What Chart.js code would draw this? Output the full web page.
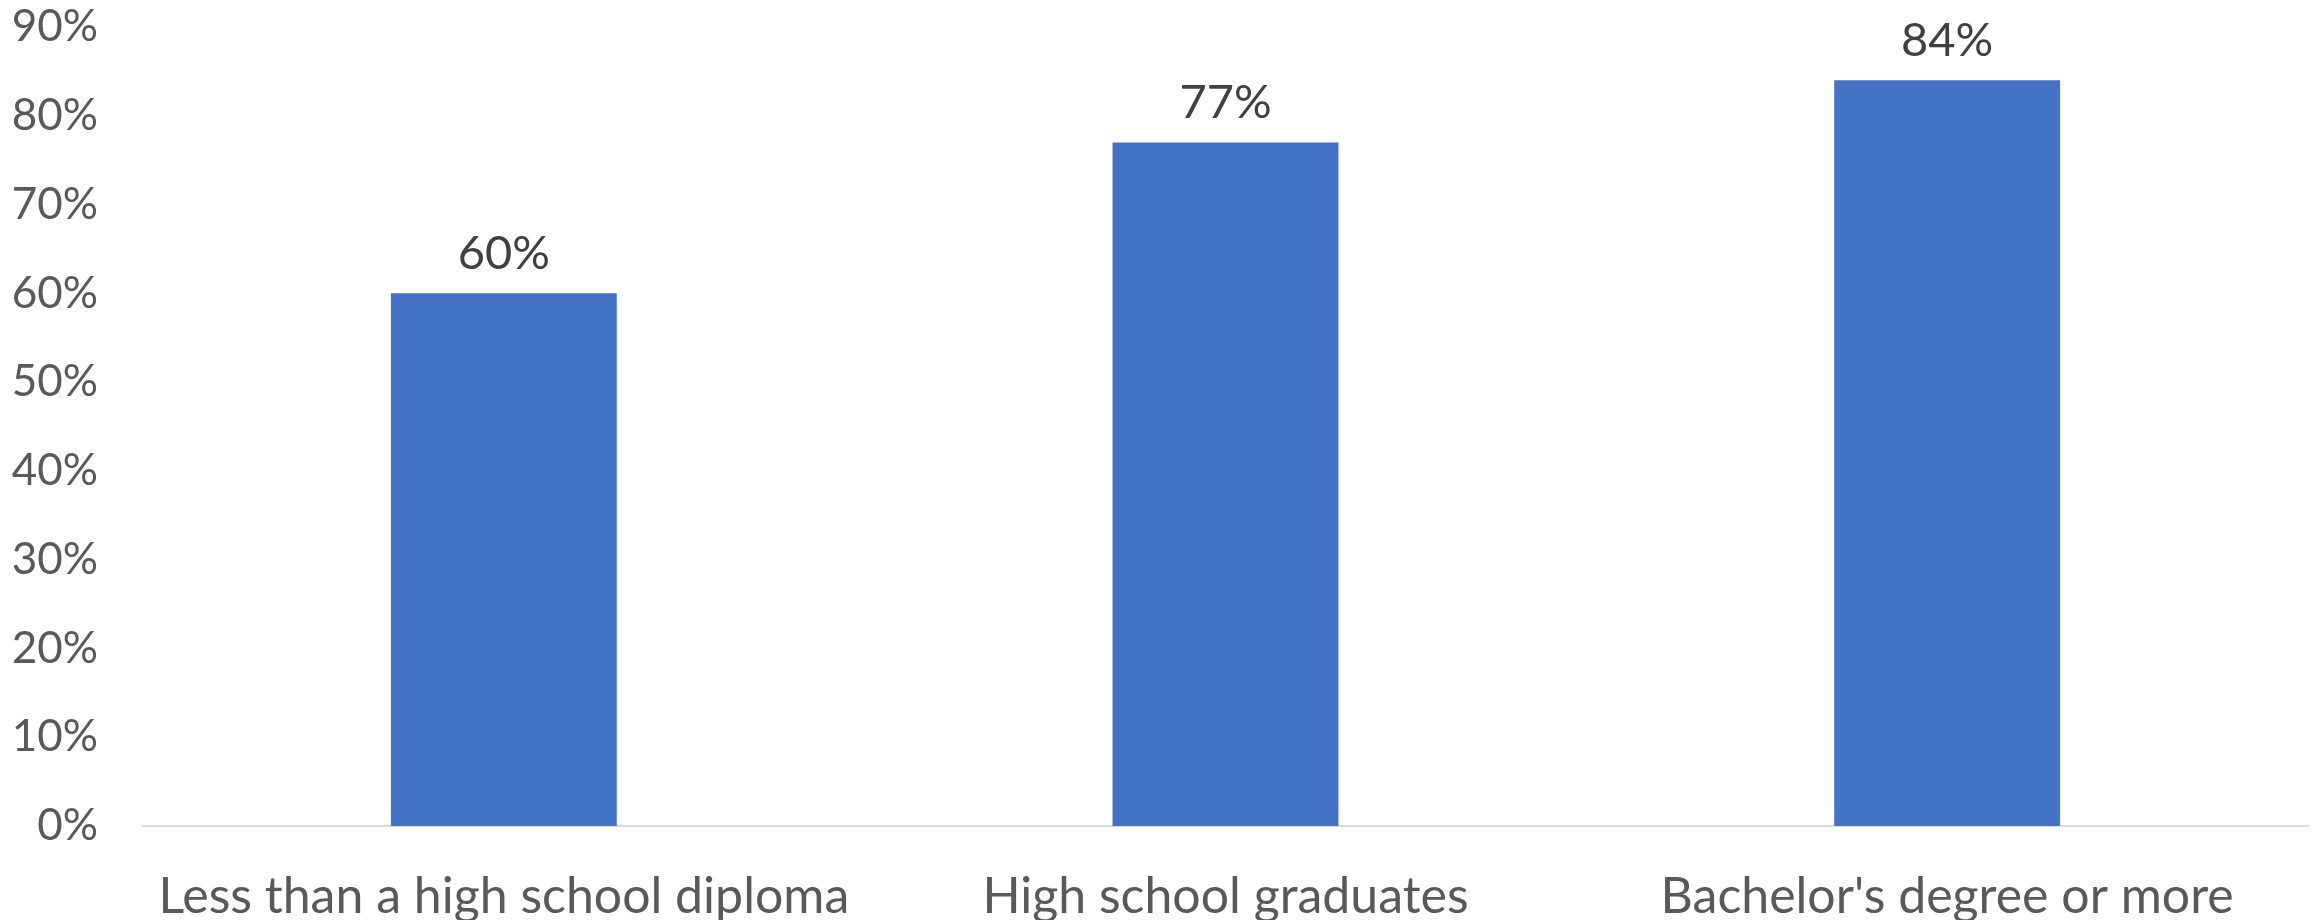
<!DOCTYPE html>
<html>
<head>
<meta charset="utf-8">
<script src="https://cdn.jsdelivr.net/npm/chart.js@4/dist/chart.umd.min.js"></script>
<style>
  html, body { margin: 0; padding: 0; background: #fff; }
  #wrap { width: 2313px; height: 920px; }
</style>
</head>
<body>
<div id="wrap"><canvas id="chart"></canvas></div>
<script>
// Data
const categories = ['Less than a high school diploma', 'High school graduates', "Bachelor's degree or more"];
const shares = [60, 77, 84];
const yTicks = [0, 10, 20, 30, 40, 50, 60, 70, 80, 90];

const FONT = 'Lato, "Open Sans", sans-serif';

// value labels over bars
const valueLabels = {
    id: 'valueLabels',
    afterDatasetsDraw(chart) {
        const ctx = chart.ctx;
        const meta = chart.getDatasetMeta(0);
        ctx.save();
        ctx.font = '47px ' + FONT;
        ctx.fillStyle = '#404040';
        ctx.textAlign = 'center';
        ctx.textBaseline = 'bottom';
        meta.data.forEach((bar, i) => {
            ctx.fillText(shares[i] + '%', bar.x, bar.y - 16);
        });
        ctx.restore();
    }
};

new Chart(document.getElementById('chart'), {
    type: 'bar',
    data: {
        labels: categories,
        datasets: [{
            data: shares,
            backgroundColor: '#4472C4',
            borderWidth: 0,
            categoryPercentage: 1,
            barPercentage: 0.313
        }]
    },
    options: {
        responsive: true,
        maintainAspectRatio: false,
        animation: false,
        layout: { padding: { top: 0, right: 5, left: 0, bottom: 0 } },
        plugins: {
            legend: { display: false },
            tooltip: { enabled: false }
        },
        scales: {
            x: {
                grid: { display: false },
                border: { display: true, color: '#D9D9D9', width: 2 },
                ticks: {
                    color: '#595959',
                    font: { family: FONT, size: 50 },
                    padding: 33,
                    maxRotation: 0,
                    autoSkip: false
                },
                afterFit(scale) { scale.height = 94; }
            },
            y: {
                min: 0,
                max: 90,
                grid: { display: false, drawTicks: false },
                border: { display: false },
                afterBuildTicks(scale) { scale.ticks = yTicks.map(v => ({ value: v })); },
                ticks: {
                    color: '#595959',
                    font: { family: FONT, size: 44 },
                    padding: 45,
                    callback: v => v + '%'
                },
                afterFit(scale) {
                    scale.width = 143;
                    scale.paddingTop = 27;
                    scale.paddingBottom = 0;
                }
            }
        }
    },
    plugins: [valueLabels]
});
</script>
</body>
</html>
